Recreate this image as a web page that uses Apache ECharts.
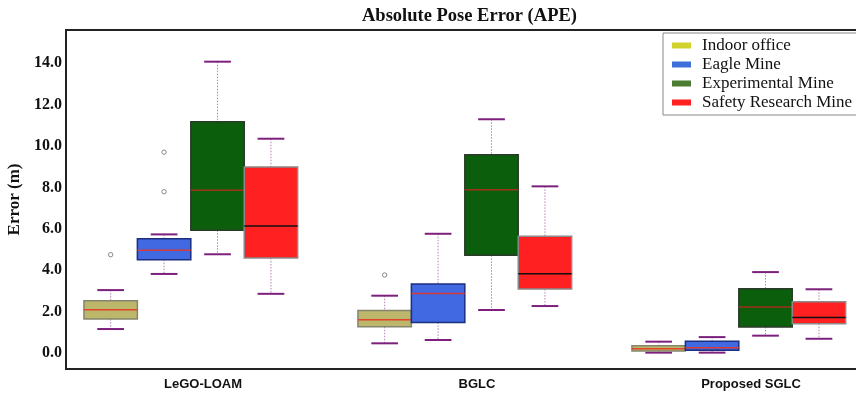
<!DOCTYPE html>
<html>
<head>
<meta charset="utf-8">
<title>Absolute Pose Error (APE)</title>
<script src="https://cdn.jsdelivr.net/npm/echarts@6/dist/echarts.min.js"></script>
<style>
html, body { margin: 0; padding: 0; background: #fff; }
#chart { width: 856px; height: 396px; }
</style>
</head>
<body>
<div id="chart"></div>
<script>
// methods on the x axis
var methods = ['LeGO-LOAM', 'BGLC', 'Proposed SGLC'];
var datasets = ['Indoor office', 'Eagle Mine', 'Experimental Mine', 'Safety Research Mine'];

// box summaries per method: [min, Q1, median, Q3, max]
var indoorOffice       = [[1.16, 1.64, 2.09, 2.53, 3.04], [0.47, 1.27, 1.61, 2.06, 2.77], [0.02, 0.10, 0.21, 0.35, 0.55]];
var eagleMine          = [[3.82, 4.51, 4.96, 5.52, 5.73], [0.63, 1.48, 2.87, 3.33, 5.76], [0.02, 0.13, 0.26, 0.57, 0.77]];
var experimentalMine   = [[4.77, 5.93, 7.86, 11.17, 14.07], [2.08, 4.72, 7.89, 9.57, 11.29], [0.84, 1.26, 2.22, 3.11, 3.91]];
var safetyResearchMine = [[2.86, 4.59, 6.14, 8.99, 10.35], [2.27, 3.09, 3.83, 5.64, 8.05], [0.69, 1.42, 1.72, 2.48, 3.08]];

// outliers: [method index, dataset index, value]
var outliers = [[0, 0, 4.75], [0, 1, 7.79], [0, 1, 9.70], [1, 0, 3.77]];

var boxes = [indoorOffice, eagleMine, experimentalMine, safetyResearchMine];

var legendColors = ['#d2d22c', '#3d6fd8', '#4d7d33', '#ff2020'];
var fillColors   = ['#bdb76b', '#4169e1', '#0b5e0b', '#ff2121'];
var borderColors = ['#85856e', '#1c2f80', '#2b3a2b', '#8a8a8a'];
var medianColors = ['#e0452a', '#d83a3a', '#a3301a', '#111111'];

var BOX_W = 0.195;        // box width, share of the category band
var GROUP_SHIFT = -0.0445; // boxes sit a bit left of the tick

function boxX(api, cat, k)
{
	var band = api.size([1, 0])[0];
	return api.coord([cat, 0])[0] + band * (GROUP_SHIFT + (k - 1.5) * BOX_W);
}

function renderBox(params, api)
{
	var k = params.seriesIndex;
	var cat = api.value(0);
	var w = api.size([1, 0])[0] * BOX_W;
	var cx = boxX(api, cat, k);
	var yMin = api.coord([cat, api.value(1)])[1];
	var yQ1 = api.coord([cat, api.value(2)])[1];
	var yMed = api.coord([cat, api.value(3)])[1];
	var yQ3 = api.coord([cat, api.value(4)])[1];
	var yMax = api.coord([cat, api.value(5)])[1];
	var whisker = { stroke: '#b184b1', lineWidth: 1, lineDash: [1.5, 1.5] };
	var cap = { stroke: '#7d1f7d', lineWidth: 2 };
	return {
		type: 'group',
		children: [
			{ type: 'line', shape: { x1: cx, y1: yMax, x2: cx, y2: yQ3 }, style: whisker },
			{ type: 'line', shape: { x1: cx, y1: yQ1, x2: cx, y2: yMin }, style: whisker },
			{ type: 'line', shape: { x1: cx - w / 4, y1: yMax, x2: cx + w / 4, y2: yMax }, style: cap },
			{ type: 'line', shape: { x1: cx - w / 4, y1: yMin, x2: cx + w / 4, y2: yMin }, style: cap },
			{
				type: 'rect',
				shape: { x: cx - w / 2, y: yQ3, width: w, height: yQ1 - yQ3 },
				style: { fill: fillColors[k], stroke: borderColors[k], lineWidth: 1.5 }
			},
			{
				type: 'line',
				shape: { x1: cx - w / 2, y1: yMed, x2: cx + w / 2, y2: yMed },
				style: { stroke: medianColors[k], lineWidth: 1.5 }
			}
		]
	};
}

function renderOutlier(params, api)
{
	var cat = api.value(0);
	var k = api.value(1);
	var p = api.coord([cat, api.value(2)]);
	return {
		type: 'circle',
		shape: { cx: boxX(api, cat, k), cy: p[1], r: 2.2 },
		style: { fill: '#fff', stroke: '#888', lineWidth: 1 }
	};
}

var series = [];
for (var k = 0; k < datasets.length; k++)
{
	var data = [];
	for (var i = 0; i < methods.length; i++)
	{
		data.push([i].concat(boxes[k][i]));
	}
	series.push({
		name: datasets[k],
		type: 'custom',
		renderItem: renderBox,
		itemStyle: { color: legendColors[k] },
		encode: { x: 0, y: [1, 2, 3, 4, 5] },
		data: data,
		silent: true
	});
}
series.push({
	type: 'custom',
	renderItem: renderOutlier,
	encode: { x: 0, y: 2 },
	data: outliers,
	silent: true,
	z: 3
});

var chart = echarts.init(document.getElementById('chart'));

var option = {
	animation: false,
	title: {
		text: 'Absolute Pose Error (APE)',
		left: 357,
		top: 2,
		textStyle: { fontFamily: 'Liberation Serif', fontWeight: 'bold', fontSize: 18.5, color: '#111' }
	},
	legend: {
		data: datasets,
		orient: 'vertical',
		left: 663,
		top: 33,
		icon: 'rect',
		itemWidth: 19,
		itemHeight: 6,
		itemGap: 2,
		padding: [4, 10, 4, 9],
		borderColor: '#888',
		borderWidth: 1,
		backgroundColor: '#fff',
		textStyle: { fontFamily: 'Liberation Serif', fontSize: 17, color: '#111', lineHeight: 17, padding: [0, 0, 0, 6] }
	},
	grid: {
		show: true,
		left: 66,
		top: 30,
		width: 822,
		height: 339,
		outerBoundsMode: 'none',
		containLabel: false,
		borderColor: '#222',
		borderWidth: 2,
		backgroundColor: 'transparent'
	},
	xAxis: {
		type: 'category',
		data: methods,
		axisLine: { show: false },
		axisTick: { show: false },
		splitLine: { show: false },
		axisLabel: { fontFamily: 'Liberation Sans', fontWeight: 'bold', fontSize: 13, color: '#111', margin: 9 }
	},
	yAxis: {
		type: 'value',
		min: -0.77,
		max: 15.6,
		minInterval: 2,
		maxInterval: 2,
		name: 'Error (m)',
		nameLocation: 'middle',
		nameRotate: 90,
		nameGap: 38,
		nameTextStyle: { fontFamily: 'Liberation Serif', fontWeight: 'bold', fontSize: 17, color: '#111' },
		axisLine: { show: false },
		axisTick: { show: false },
		splitLine: { show: false },
		axisLabel: {
			showMinLabel: false,
			showMaxLabel: false,
			margin: 4,
			fontFamily: 'Liberation Serif',
			fontWeight: 'bold',
			fontSize: 16,
			color: '#111',
			formatter: function (v) { return v.toFixed(1); }
		}
	},
	series: series
};

chart.setOption(option);
</script>
</body>
</html>
